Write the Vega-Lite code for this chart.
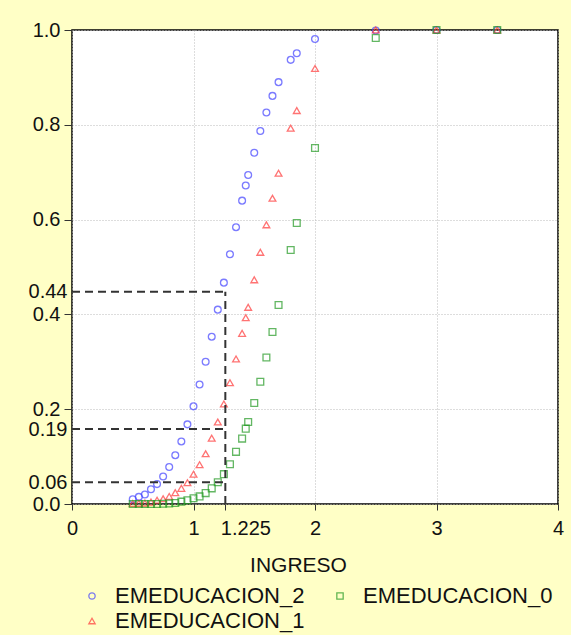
{
  "$schema": "https://vega.github.io/schema/vega-lite/v6.json",
  "autosize": {"type": "none"},
  "width": 486,
  "height": 474,
  "padding": {"left": 72, "top": 30, "right": 13, "bottom": 131},
  "background": "#FFFFC6",
  "config": {
    "view": {"fill": "white", "stroke": "black", "strokeWidth": 1.5},
    "font": "Liberation Sans",
    "axis": {"labelFont": "Liberation Sans", "titleFont": "Liberation Sans", "labelColor": "#111", "titleColor": "#111", "domain": false, "tickColor": "#333", "gridColor": "#bbbbbb", "gridDash": [1, 2], "gridWidth": 1}
  },
  "datasets": {
    "pts": [
      {"s": "EMEDUCACION_2", "x": 0.50, "y": 0.010},
      {"s": "EMEDUCACION_2", "x": 0.55, "y": 0.015},
      {"s": "EMEDUCACION_2", "x": 0.60, "y": 0.020},
      {"s": "EMEDUCACION_2", "x": 0.65, "y": 0.031},
      {"s": "EMEDUCACION_2", "x": 0.70, "y": 0.042},
      {"s": "EMEDUCACION_2", "x": 0.75, "y": 0.058},
      {"s": "EMEDUCACION_2", "x": 0.80, "y": 0.078},
      {"s": "EMEDUCACION_2", "x": 0.85, "y": 0.103},
      {"s": "EMEDUCACION_2", "x": 0.90, "y": 0.132},
      {"s": "EMEDUCACION_2", "x": 0.95, "y": 0.168},
      {"s": "EMEDUCACION_2", "x": 1.00, "y": 0.206},
      {"s": "EMEDUCACION_2", "x": 1.05, "y": 0.252},
      {"s": "EMEDUCACION_2", "x": 1.10, "y": 0.300},
      {"s": "EMEDUCACION_2", "x": 1.15, "y": 0.353},
      {"s": "EMEDUCACION_2", "x": 1.20, "y": 0.410},
      {"s": "EMEDUCACION_2", "x": 1.25, "y": 0.467},
      {"s": "EMEDUCACION_2", "x": 1.30, "y": 0.527},
      {"s": "EMEDUCACION_2", "x": 1.35, "y": 0.584},
      {"s": "EMEDUCACION_2", "x": 1.40, "y": 0.640},
      {"s": "EMEDUCACION_2", "x": 1.43, "y": 0.672},
      {"s": "EMEDUCACION_2", "x": 1.45, "y": 0.694},
      {"s": "EMEDUCACION_2", "x": 1.50, "y": 0.741},
      {"s": "EMEDUCACION_2", "x": 1.55, "y": 0.787},
      {"s": "EMEDUCACION_2", "x": 1.60, "y": 0.826},
      {"s": "EMEDUCACION_2", "x": 1.65, "y": 0.861},
      {"s": "EMEDUCACION_2", "x": 1.70, "y": 0.890},
      {"s": "EMEDUCACION_2", "x": 1.80, "y": 0.937},
      {"s": "EMEDUCACION_2", "x": 1.85, "y": 0.951},
      {"s": "EMEDUCACION_2", "x": 2.00, "y": 0.981},
      {"s": "EMEDUCACION_2", "x": 2.50, "y": 0.999},
      {"s": "EMEDUCACION_2", "x": 3.00, "y": 1.000},
      {"s": "EMEDUCACION_2", "x": 3.50, "y": 1.000},
      {"s": "EMEDUCACION_1", "x": 0.50, "y": 0.001},
      {"s": "EMEDUCACION_1", "x": 0.55, "y": 0.0015},
      {"s": "EMEDUCACION_1", "x": 0.60, "y": 0.002},
      {"s": "EMEDUCACION_1", "x": 0.65, "y": 0.004},
      {"s": "EMEDUCACION_1", "x": 0.70, "y": 0.008},
      {"s": "EMEDUCACION_1", "x": 0.75, "y": 0.011},
      {"s": "EMEDUCACION_1", "x": 0.80, "y": 0.016},
      {"s": "EMEDUCACION_1", "x": 0.85, "y": 0.024},
      {"s": "EMEDUCACION_1", "x": 0.90, "y": 0.033},
      {"s": "EMEDUCACION_1", "x": 0.95, "y": 0.045},
      {"s": "EMEDUCACION_1", "x": 1.00, "y": 0.063},
      {"s": "EMEDUCACION_1", "x": 1.05, "y": 0.083},
      {"s": "EMEDUCACION_1", "x": 1.10, "y": 0.106},
      {"s": "EMEDUCACION_1", "x": 1.15, "y": 0.139},
      {"s": "EMEDUCACION_1", "x": 1.20, "y": 0.173},
      {"s": "EMEDUCACION_1", "x": 1.25, "y": 0.211},
      {"s": "EMEDUCACION_1", "x": 1.30, "y": 0.256},
      {"s": "EMEDUCACION_1", "x": 1.35, "y": 0.306},
      {"s": "EMEDUCACION_1", "x": 1.40, "y": 0.360},
      {"s": "EMEDUCACION_1", "x": 1.43, "y": 0.393},
      {"s": "EMEDUCACION_1", "x": 1.45, "y": 0.415},
      {"s": "EMEDUCACION_1", "x": 1.50, "y": 0.473},
      {"s": "EMEDUCACION_1", "x": 1.55, "y": 0.531},
      {"s": "EMEDUCACION_1", "x": 1.60, "y": 0.589},
      {"s": "EMEDUCACION_1", "x": 1.65, "y": 0.645},
      {"s": "EMEDUCACION_1", "x": 1.70, "y": 0.698},
      {"s": "EMEDUCACION_1", "x": 1.80, "y": 0.793},
      {"s": "EMEDUCACION_1", "x": 1.85, "y": 0.830},
      {"s": "EMEDUCACION_1", "x": 2.00, "y": 0.919},
      {"s": "EMEDUCACION_1", "x": 2.50, "y": 1.000},
      {"s": "EMEDUCACION_1", "x": 3.00, "y": 1.000},
      {"s": "EMEDUCACION_1", "x": 3.50, "y": 1.000},
      {"s": "EMEDUCACION_0", "x": 0.50, "y": 0.000},
      {"s": "EMEDUCACION_0", "x": 0.55, "y": 0.000},
      {"s": "EMEDUCACION_0", "x": 0.60, "y": 0.000},
      {"s": "EMEDUCACION_0", "x": 0.65, "y": 0.000},
      {"s": "EMEDUCACION_0", "x": 0.70, "y": 0.000},
      {"s": "EMEDUCACION_0", "x": 0.75, "y": 0.0005},
      {"s": "EMEDUCACION_0", "x": 0.80, "y": 0.001},
      {"s": "EMEDUCACION_0", "x": 0.85, "y": 0.002},
      {"s": "EMEDUCACION_0", "x": 0.90, "y": 0.005},
      {"s": "EMEDUCACION_0", "x": 0.95, "y": 0.008},
      {"s": "EMEDUCACION_0", "x": 1.00, "y": 0.012},
      {"s": "EMEDUCACION_0", "x": 1.05, "y": 0.016},
      {"s": "EMEDUCACION_0", "x": 1.10, "y": 0.023},
      {"s": "EMEDUCACION_0", "x": 1.15, "y": 0.033},
      {"s": "EMEDUCACION_0", "x": 1.20, "y": 0.046},
      {"s": "EMEDUCACION_0", "x": 1.25, "y": 0.063},
      {"s": "EMEDUCACION_0", "x": 1.30, "y": 0.084},
      {"s": "EMEDUCACION_0", "x": 1.35, "y": 0.110},
      {"s": "EMEDUCACION_0", "x": 1.40, "y": 0.138},
      {"s": "EMEDUCACION_0", "x": 1.43, "y": 0.159},
      {"s": "EMEDUCACION_0", "x": 1.45, "y": 0.173},
      {"s": "EMEDUCACION_0", "x": 1.50, "y": 0.213},
      {"s": "EMEDUCACION_0", "x": 1.55, "y": 0.258},
      {"s": "EMEDUCACION_0", "x": 1.60, "y": 0.309},
      {"s": "EMEDUCACION_0", "x": 1.65, "y": 0.363},
      {"s": "EMEDUCACION_0", "x": 1.70, "y": 0.420},
      {"s": "EMEDUCACION_0", "x": 1.80, "y": 0.536},
      {"s": "EMEDUCACION_0", "x": 1.85, "y": 0.593},
      {"s": "EMEDUCACION_0", "x": 2.00, "y": 0.751},
      {"s": "EMEDUCACION_0", "x": 2.50, "y": 0.983},
      {"s": "EMEDUCACION_0", "x": 3.00, "y": 1.000},
      {"s": "EMEDUCACION_0", "x": 3.50, "y": 1.000}
    ],
    "guides": [
      {"x": 0, "x2": 1.262, "y": 0.448, "y2": 0.448},
      {"x": 0, "x2": 1.262, "y": 0.158, "y2": 0.158},
      {"x": 0, "x2": 1.262, "y": 0.046, "y2": 0.046},
      {"x": 1.262, "x2": 1.262, "y": 0, "y2": 0.448}
    ]
  },
  "layer": [
    {
      "data": {"name": "pts"},
      "mark": {"type": "point", "filled": false, "size": 46, "strokeWidth": 1.3, "clip": false},
      "encoding": {
        "x": {
          "field": "x", "type": "quantitative",
          "scale": {"domain": [0, 4], "nice": false, "zero": false},
          "axis": {
            "title": "INGRESO", "titleFontSize": 21, "titleFontWeight": "normal",
            "titleX": 226, "titleY": 61, "titleAlign": "center", "titleBaseline": "middle",
            "values": [0, 1, 1.262, 2, 3, 4],
            "labelExpr": "datum.value == 1.262 ? '1.225' : format(datum.value, 'd')",
            "labelFontSize": 20, "labelPadding": 8, "tickSize": 6,
            "labelAlign": {"condition": {"test": "datum.value == 1.262", "value": "left"}, "value": "center"},
            "labelOffset": {"condition": {"test": "datum.value == 1.262", "value": -5}, "value": 0},
            "labelFlush": false, "labelOverlap": false,
            "gridOpacity": {"condition": {"test": "datum.value == 1.262", "value": 0}, "value": 1}
          }
        },
        "y": {
          "field": "y", "type": "quantitative",
          "scale": {"domain": [0, 1], "nice": false},
          "axis": {
            "title": null,
            "values": [0, 0.046, 0.158, 0.2, 0.4, 0.448, 0.6, 0.8, 1.0],
            "labelExpr": "datum.value == 0.046 ? '0.06' : datum.value == 0.158 ? '0.19' : datum.value == 0.448 ? '0.44' : format(datum.value, '.1f')",
            "labelFontSize": 20, "tickSize": 8, "labelFlush": false, "labelOverlap": false,
            "labelBaseline": "middle",
            "labelPadding": {"condition": {"test": "indexof([0.046, 0.158, 0.448], datum.value) >= 0", "value": -3}, "value": 4},
            "tickOpacity": {"condition": {"test": "indexof([0.046, 0.158, 0.448], datum.value) >= 0", "value": 0}, "value": 1},
            "gridOpacity": {"condition": {"test": "indexof([0.046, 0.158, 0.448], datum.value) >= 0", "value": 0}, "value": 1}
          }
        },
        "color": {
          "field": "s", "type": "nominal",
          "scale": {"domain": ["EMEDUCACION_2", "EMEDUCACION_1", "EMEDUCACION_0"], "range": ["#4444ff", "#ff3838", "#229922"]},
          "legend": {
            "title": null, "orient": "none", "legendX": 9, "legendY": 555, "columns": 2,
            "labelFontSize": 22, "labelFont": "Liberation Sans", "labelColor": "#111", "labelLimit": 0,
            "symbolSize": 40, "symbolStrokeWidth": 1.3, "labelOffset": 12, "columnPadding": 24, "rowPadding": 3
          }
        },
        "shape": {
          "field": "s", "type": "nominal",
          "scale": {"domain": ["EMEDUCACION_2", "EMEDUCACION_1", "EMEDUCACION_0"], "range": ["circle", "triangle-up", "square"]},
          "legend": {
            "title": null, "orient": "none", "legendX": 9, "legendY": 555, "columns": 2,
            "labelFontSize": 22, "labelFont": "Liberation Sans", "labelColor": "#111", "labelLimit": 0,
            "symbolSize": 40, "symbolStrokeWidth": 1.3, "labelOffset": 12, "columnPadding": 24, "rowPadding": 3
          }
        }
      }
    },
    {
      "data": {"name": "guides"},
      "mark": {"type": "rule", "color": "#333333", "strokeWidth": 2, "strokeDash": [8, 5]},
      "encoding": {
        "x": {"field": "x", "type": "quantitative"},
        "x2": {"field": "x2"},
        "y": {"field": "y", "type": "quantitative"},
        "y2": {"field": "y2"}
      }
    }
  ]
}
